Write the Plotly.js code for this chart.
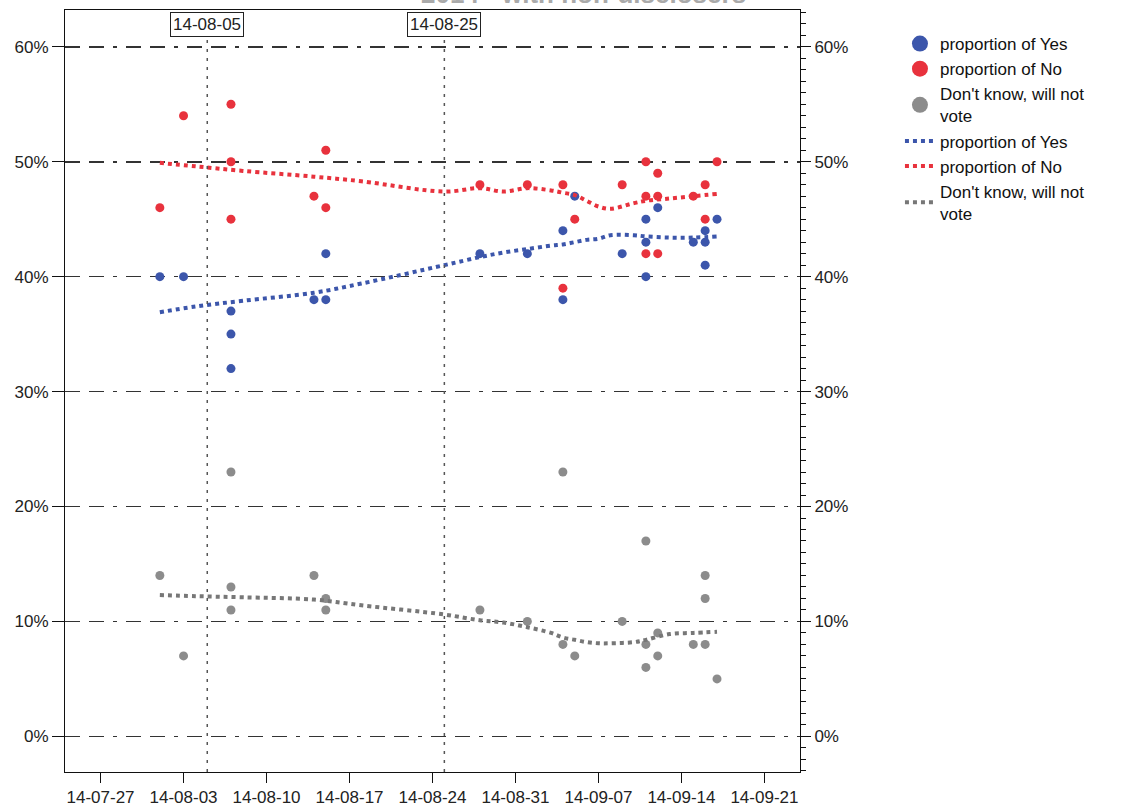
<!DOCTYPE html>
<html>
<head>
<meta charset="utf-8">
<script src="https://cdn.plot.ly/plotly-3.0.1.min.js"></script>
<style>html,body{margin:0;padding:0;background:#fff;}#chart{width:1121px;height:809px;}</style>
</head>
<body>
<div id="chart"></div>
<script>
// Poll values (percent)
const yesDates = ['2014-08-01','2014-08-03','2014-08-07','2014-08-07','2014-08-07','2014-08-14','2014-08-15','2014-08-15','2014-08-28','2014-09-01','2014-09-04','2014-09-04','2014-09-05','2014-09-09','2014-09-11','2014-09-11','2014-09-11','2014-09-12','2014-09-15','2014-09-16','2014-09-16','2014-09-16','2014-09-17'];
const yesVals  = [40,40,37,35,32,38,42,38,42,42,44,38,47,42,45,43,40,46,43,44,43,41,45];

const noDates = ['2014-08-01','2014-08-03','2014-08-07','2014-08-07','2014-08-07','2014-08-14','2014-08-15','2014-08-15','2014-08-28','2014-09-01','2014-09-04','2014-09-04','2014-09-05','2014-09-09','2014-09-11','2014-09-11','2014-09-11','2014-09-12','2014-09-12','2014-09-12','2014-09-15','2014-09-16','2014-09-16','2014-09-17'];
const noVals  = [46,54,55,50,45,47,51,46,48,48,48,39,45,48,50,47,42,49,47,42,47,48,45,50];

const dkDates = ['2014-08-01','2014-08-03','2014-08-07','2014-08-07','2014-08-07','2014-08-14','2014-08-15','2014-08-15','2014-08-28','2014-09-01','2014-09-04','2014-09-04','2014-09-05','2014-09-09','2014-09-11','2014-09-11','2014-09-11','2014-09-12','2014-09-12','2014-09-15','2014-09-16','2014-09-16','2014-09-16','2014-09-17'];
const dkVals  = [14,7,23,13,11,14,12,11,11,10,23,8,7,10,17,8,6,9,7,8,14,12,8,5];

// Smoothed (loess-like) fit lines
const fitDates = ['2014-08-01','2014-08-04','2014-08-08','2014-08-14','2014-08-18','2014-08-25','2014-08-28','2014-08-30','2014-09-01','2014-09-03','2014-09-04','2014-09-05','2014-09-06','2014-09-07','2014-09-08','2014-09-10','2014-09-11','2014-09-13','2014-09-15','2014-09-17'];
const fitYes = [36.9,37.4,37.9,38.6,39.4,41.0,41.7,42.1,42.4,42.7,42.8,43.0,43.2,43.3,43.6,43.6,43.5,43.4,43.4,43.5];
const fitNo  = [49.9,49.6,49.2,48.7,48.3,47.4,47.7,47.4,47.7,47.5,47.3,47.1,46.6,46.1,45.9,46.4,46.6,46.8,47.0,47.2];
const fitDk  = [12.3,12.2,12.1,11.9,11.4,10.6,10.1,9.9,9.5,9.0,8.6,8.4,8.2,8.1,8.1,8.2,8.4,8.9,9.0,9.1];

const refDates = ['2014-08-05','2014-08-25'];
const refLabels = ['14-08-05','14-08-25'];
const yTicks = [0,10,20,30,40,50,60];
const yTickText = ['0%','10%','20%','30%','40%','50%','60%'];

const BLUE = '#3c56ab', RED = '#e8323d', GRAY = '#8c8c8c';
const FONT = 'Arial, "Liberation Sans", sans-serif';

const traces = [
  {x: yesDates, y: yesVals, type:'scatter', mode:'markers', marker:{color:BLUE, size:9}, showlegend:false, name:'proportion of Yes'},
  {x: noDates, y: noVals, type:'scatter', mode:'markers', marker:{color:RED, size:9}, showlegend:false, name:'proportion of No'},
  {x: dkDates, y: dkVals, type:'scatter', mode:'markers', marker:{color:GRAY, size:9}, showlegend:false, name:"Don't know, will not vote"},
  {x: fitDates, y: fitYes, type:'scatter', mode:'lines', line:{color:BLUE, width:4, dash:'dot', shape:'spline'}, showlegend:false},
  {x: fitDates, y: fitNo, type:'scatter', mode:'lines', line:{color:RED, width:4, dash:'dot', shape:'spline'}, showlegend:false},
  {x: fitDates, y: fitDk, type:'scatter', mode:'lines', line:{color:'#777777', width:4, dash:'dot', shape:'spline'}, showlegend:false},
  // legend entries
  {x:[null], y:[null], type:'scatter', mode:'markers', marker:{color:BLUE, size:16}, name:'proportion of Yes'},
  {x:[null], y:[null], type:'scatter', mode:'markers', marker:{color:RED, size:16}, name:'proportion of No'},
  {x:[null], y:[null], type:'scatter', mode:'markers', marker:{color:GRAY, size:16}, name:"Don't know, will not<br>vote"},
  {x:[null], y:[null], type:'scatter', mode:'lines', line:{color:BLUE, width:4, dash:'dot'}, name:'proportion of Yes'},
  {x:[null], y:[null], type:'scatter', mode:'lines', line:{color:RED, width:4, dash:'dot'}, name:'proportion of No'},
  {x:[null], y:[null], type:'scatter', mode:'lines', line:{color:'#777777', width:4, dash:'dot'}, name:"Don't know, will not<br>vote"}
];

const shapes = refDates.map(d => ({type:'line', xref:'x', yref:'paper', x0:d, x1:d, y0:0, y1:1, line:{color:'#555', width:1.5, dash:'3px,6px'}}));
const annotations = refDates.map((d,i) => ({xref:'x', yref:'paper', x:d, y:1, yanchor:'top', xanchor:'center', yshift:-2, text:refLabels[i], showarrow:false, font:{family:FONT, size:17, color:'#222'}, bordercolor:'#222', borderwidth:1, borderpad:2, bgcolor:'#fff'}));
annotations.push({xref:'paper', yref:'paper', x:0.706, y:1, yanchor:'bottom', xanchor:'center', yshift:-1, text:'<b>2014 - with non-disclosers</b>', showarrow:false, font:{family:FONT, size:26, color:'#aaaaaa'}});

const yCommon = {range:[-3.1,63.2], tickvals:yTicks, ticktext:yTickText, showline:true, linecolor:'#111', linewidth:1, ticks:'outside', tickcolor:'#111', tickfont:{family:FONT, size:17, color:'#222'}, zeroline:false, fixedrange:true};

const layout = {
  width:1121, height:809,
  margin:{l:65, r:321, t:10, b:37, pad:0},
  paper_bgcolor:'#fff', plot_bgcolor:'#fff',
  showlegend:true,
  legend:{x:1.136, y:0.979, xanchor:'left', yanchor:'top', font:{family:FONT, size:17, color:'#111'}, tracegroupgap:0, itemwidth:30, bgcolor:'rgba(0,0,0,0)'},
  xaxis:{type:'date', range:['2014-07-24','2014-09-24'], tick0:'2014-07-27', dtick:7*24*3600*1000, tickformat:'%y-%m-%d', showgrid:false, zeroline:false, showline:true, mirror:true, linecolor:'#111', linewidth:1, ticks:'outside', ticklen:10, tickwidth:1.5, tickcolor:'#111', tickfont:{family:FONT, size:17, color:'#222'}},
  yaxis:Object.assign({}, yCommon, {side:'left', ticklen:12, showgrid:true, gridcolor:'#333', gridwidth:1.6, griddash:'15px,9px,15px,9px,4px,9px'}),
  yaxis2:Object.assign({}, yCommon, {side:'right', overlaying:'y', ticklen:10, showgrid:false, minor:{dtick:1, ticks:'outside', ticklen:5, tickcolor:'#111', showgrid:false}}),
  shapes:shapes,
  annotations:annotations
};

// attach a hidden trace to yaxis2 so it is drawn
traces.push({x:['2014-08-01'], y:[null], yaxis:'y2', type:'scatter', mode:'markers', showlegend:false, hoverinfo:'skip'});

Plotly.newPlot('chart', traces, layout, {staticPlot:true});
</script>
</body>
</html>
